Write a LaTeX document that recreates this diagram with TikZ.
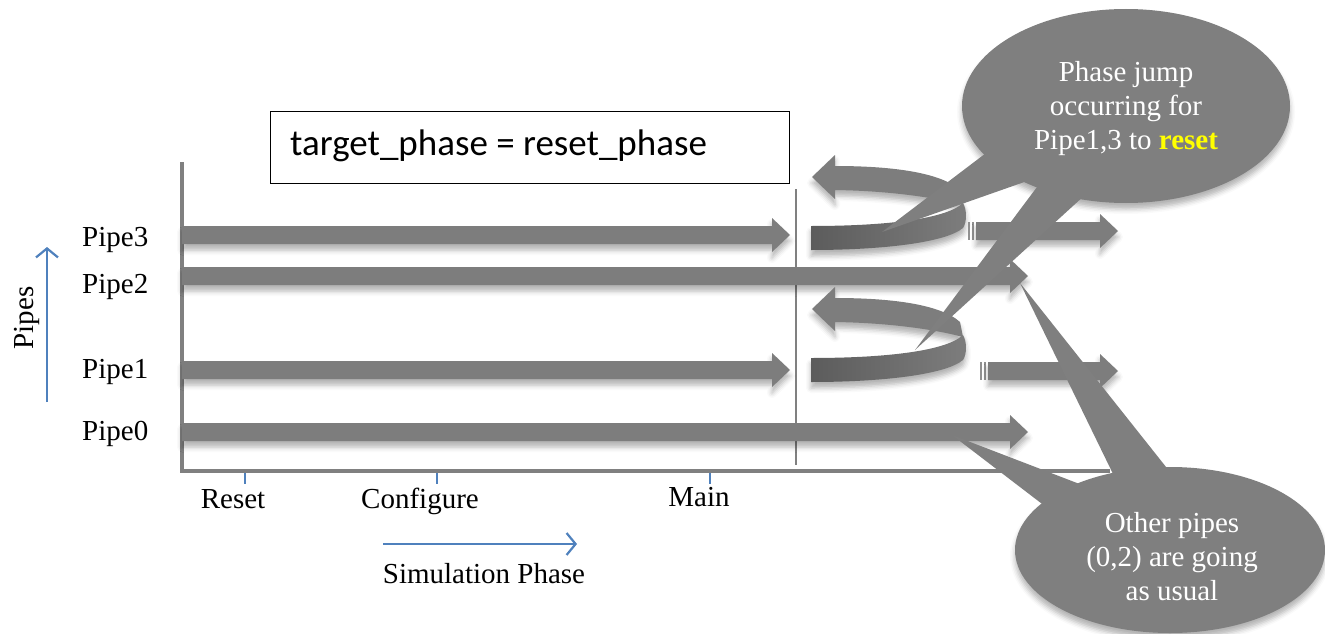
\documentclass[tikz,border=0pt]{standalone}
\usepackage{fontspec}
\setmainfont{Liberation Serif}
\newfontfamily\boxfont{Carlito}
\usetikzlibrary{arrows.meta,shadows.blur}
\definecolor{pgray}{RGB}{125,125,125}
\definecolor{dgray}{RGB}{92,92,92}
\definecolor{axgray}{RGB}{128,128,128}
\definecolor{cgray}{RGB}{127,127,127}
\definecolor{oblue}{RGB}{79,129,189}
\definecolor{ylw}{RGB}{255,255,0}
\tikzset{
 lbl/.style={font=\fontsize{29}{34}\selectfont, inner sep=0pt},
 softshadow/.style={blur shadow={shadow xshift=0pt, shadow yshift=-6pt, shadow blur radius=5pt, shadow opacity=30}},
 pipeshape/.style={fill=pgray, softshadow},
 axisline/.style={draw=axgray, line width=3.2pt},
 bluearr/.style={draw=oblue, line width=2.2pt, -{Straight Barb[length=9pt,width=22pt,line width=2.2pt]}},
 tickline/.style={draw=oblue, line width=2.5pt},
 callout/.style={fill=cgray},
}
\newcommand\pipearrow[3]{%
 \fill[pipeshape] (#1,#3-9) -- (#2-18,#3-9) -- (#2-18,#3-17) -- (#2,#3) -- (#2-18,#3+17) -- (#2-18,#3+9) -- (#1,#3+9) -- cycle;}
\newcommand\resumearrow[3]{%
 \fill[pgray!85!white] (#1,#3-9) rectangle (#1+2,#3+9);
 \fill[pgray!85!white] (#1+4,#3-9) rectangle (#1+6,#3+9);
 \pipearrow{#1+8}{#2}{#3}}
\newcommand\jumpribbon[1]{%
 \begin{scope}[yshift=#1]
 \fill[pipeshape] (812,177) -- (835,155) -- (835,166) .. controls (890,166) and (940,172) .. (960,190) -- (963,205) .. controls (945,200) and (900,191) .. (835,190) -- (835,199) -- cycle;
 \shade[left color=dgray, right color=pgray, softshadow] (811,226) .. controls (880,226) and (945,220) .. (963,203) .. controls (967,210) and (967,222) .. (963,228) .. controls (945,243) and (880,250) .. (811,250) -- cycle;
 \end{scope}}
\begin{document}
\begin{tikzpicture}[x=1pt,y=-1pt]
\useasboundingbox (0,0) rectangle (1325,634);

% axes
\draw[axisline] (182,162) -- (182,471) -- (1110,471);
\draw[draw=axgray, line width=2.2pt] (796,189) -- (796,465);

% ticks
\draw[tickline] (245,473) -- (245,484);
\draw[tickline] (437,473) -- (437,484);
\draw[tickline] (710,473) -- (710,484);

% phase labels
\node[lbl, anchor=base] (reset) at (233,508) {Reset};
\node[lbl, anchor=base] (configure) at (420,508) {Configure};
\node[lbl, anchor=base] (main) at (699,506) {Main};
\coordinate (sa) at (383,544);
\coordinate (sb) at (577,544);
\draw[bluearr] (sa) -- (sb);
\node[lbl, anchor=base] (simphase) at (484,583) {Simulation Phase};

% pipes axis
\coordinate (pa) at (47,402);
\coordinate (pb) at (47,247);
\draw[bluearr] (pa) -- (pb);
\node[lbl, anchor=base, rotate=90] (pipes) at (33,318) {Pipes};

% pipe labels
\node[lbl, anchor=base west] (p3) at (82,246) {Pipe3};
\node[lbl, anchor=base west] (p2) at (82,293) {Pipe2};
\node[lbl, anchor=base west] (p1) at (82,378) {Pipe1};
\node[lbl, anchor=base west] (p0) at (82,440) {Pipe0};

% box
\node[draw=black, line width=1.2pt, minimum width=519pt, minimum height=72pt, anchor=north west, inner sep=0pt] (box) at (270,111) {};
\node[anchor=west, inner sep=0pt, font=\boxfont\fontsize{37}{40}\selectfont] (boxtext) at (290,146) {target\_phase = reset\_phase};

% pipe arrows
\pipearrow{182}{790}{235}
\pipearrow{182}{1028}{276}
\pipearrow{182}{790}{370}
\pipearrow{182}{1028}{432}

% jumps
\jumpribbon{0pt}
\jumpribbon{-132pt}

% resumed arrows
\resumearrow{968}{1118}{231}
\resumearrow{980}{1118}{371}

% callout 1
\fill[callout, softshadow] (1126,106) ellipse [x radius=164, y radius=97];
\fill[callout] (882,232) -- (990,150) -- (1030,180) -- cycle;
\fill[callout] (915,350) -- (1040,183) -- (1085,195) -- cycle;
\node[lbl, text=white, align=center] (c1text) at (1126,109) {Phase jump\\occurring for\\Pipe1,3 to \textcolor{ylw}{\textbf{reset}}};

% callout 2
\fill[callout, softshadow] (1170,550) ellipse [x radius=155, y radius=83];
\fill[callout] (1020,283) -- (1115,478) -- (1170,472) -- cycle;
\fill[callout] (952,435) -- (1090,488) -- (1050,510) -- cycle;
\node[lbl, text=white, align=center] (c2text) at (1172,557) {Other pipes\\(0,2) are going\\as usual};
\end{tikzpicture}
\end{document}
